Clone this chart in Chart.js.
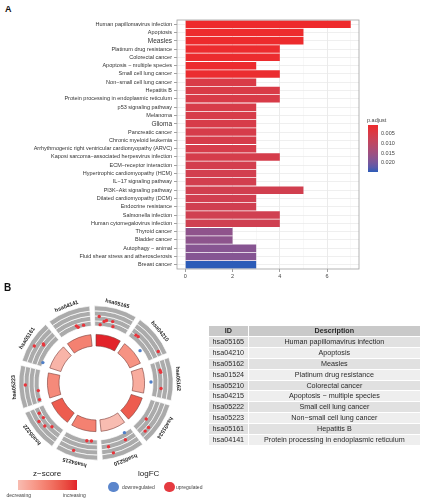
<!DOCTYPE html>
<html>
<head>
<meta charset="utf-8">
<script src="https://cdn.jsdelivr.net/npm/chart.js@4.4.1/dist/chart.umd.min.js"></script>
<style>
    body { margin: 0; width: 421px; height: 500px; background: #fff; position: relative; overflow: hidden;
           font-family: "Liberation Sans", Arial, sans-serif; color: #333; }
    .abs { position: absolute; }
    .panel { font-weight: bold; color: #111; }
    .small { font-size: 5.5px; color: #444; white-space: nowrap; }
    #keggTable { position: absolute; left: 207.5px; top: 324.5px; width: 213px; border-collapse: separate;
                 border-spacing: 1.5px 1px; font-size: 7.2px; will-change: transform; }
    #keggTable td, #keggTable th { height: 9.9px; padding: 0; text-align: center; line-height: 9.9px;
                                   white-space: nowrap; color: #2a2a2a; }
    #keggTable th { background: #c9c9c9; font-weight: bold; }
    #keggTable tr:nth-child(odd) td { background: #eeeeee; }
    #keggTable tr:nth-child(even) td { background: #e1e1e1; }
</style>
</head>
<body>

<div class="abs panel" style="left:5px;top:4px;font-size:9px;">A</div>
<canvas id="barChart" class="abs" width="421" height="285" style="left:0;top:0;"></canvas>

<!-- p.adjust colour bar -->
<div class="abs small" style="left:367px;top:117px;">p.adjust</div>
<div id="pBar" class="abs" style="left:368px;top:125px;width:10px;height:46.7px;"></div>
<div id="pTickBox"></div>

<div class="abs panel" style="left:4px;top:282px;font-size:10px;">B</div>
<canvas id="ringChart" class="abs" width="190" height="190" style="left:1px;top:288px;"></canvas>
<canvas id="dotChart" class="abs" width="190" height="190" style="left:1px;top:288px;"></canvas>

<table id="keggTable"></table>

<!-- circle legends -->
<div class="abs" style="left:33px;top:469px;font-size:8px;color:#222;">z−score</div>
<div id="zBar" class="abs" style="left:18px;top:479.5px;width:59px;height:10.5px;"></div>
<div class="abs small" style="left:6.5px;top:492px;font-size:5px;">decreasing</div>
<div class="abs small" style="left:63px;top:492px;font-size:5px;">increasing</div>
<div class="abs" style="left:138px;top:469px;font-size:8px;color:#222;">logFC</div>
<div class="abs" style="left:108px;top:481.5px;width:10.5px;height:10.5px;border-radius:50%;background:#5b86cc;"></div>
<div class="abs small" style="left:122px;top:484px;font-size:5px;">downregulated</div>
<div class="abs" style="left:164px;top:481.5px;width:10.5px;height:10.5px;border-radius:50%;background:#e53a40;"></div>
<div class="abs small" style="left:176px;top:484px;font-size:5px;">upregulated</div>

<script>
// ---- Panel A data ----
const pathways = [
    'Human papillomavirus infection', 'Apoptosis', 'Measles', 'Platinum drug resistance',
    'Colorectal cancer', 'Apoptosis − multiple species', 'Small cell lung cancer',
    'Non−small cell lung cancer', 'Hepatitis B', 'Protein processing in endoplasmic reticulum',
    'p53 signaling pathway', 'Melanoma', 'Glioma', 'Pancreatic cancer', 'Chronic myeloid leukemia',
    'Arrhythmogenic right ventricular cardiomyopathy (ARVC)', 'Kaposi sarcoma−associated herpesvirus infection',
    'ECM−receptor interaction', 'Hypertrophic cardiomyopathy (HCM)', 'IL−17 signaling pathway',
    'PI3K−Akt signaling pathway', 'Dilated cardiomyopathy (DCM)', 'Endocrine resistance',
    'Salmonella infection', 'Human cytomegalovirus infection', 'Thyroid cancer', 'Bladder cancer',
    'Autophagy − animal', 'Fluid shear stress and atherosclerosis', 'Breast cancer'
];
const geneCount = [7, 5, 5, 4, 4, 3, 4, 3, 4, 4, 3, 3, 3, 3, 3, 3, 4, 3, 3, 3, 5, 3, 3, 4, 4, 2, 2, 3, 3, 3];
const pAdjust = [0.0004, 0.0006, 0.0006, 0.0008, 0.0008, 0.0009, 0.0010, 0.0048, 0.0048, 0.0050,
                 0.0052, 0.0052, 0.0052, 0.0053, 0.0053, 0.0054, 0.0055, 0.0060, 0.0061, 0.0061,
                 0.0062, 0.0063, 0.0064, 0.0065, 0.0066, 0.0170, 0.0172, 0.0180, 0.0182, 0.0246];
const countTicks = [0, 2, 4, 6];
const pTicks = [0.005, 0.010, 0.015, 0.020];
const bigLabels = ['Measles', 'Glioma'];   // these come out larger in the original

// ---- Panel B data ----
const termIds = ['hsa05165', 'hsa04210', 'hsa05162', 'hsa01524', 'hsa05210',
                 'hsa04215', 'hsa05222', 'hsa05223', 'hsa05161', 'hsa04141'];
const termDesc = ['Human papillomavirus infection', 'Apoptosis', 'Measles', 'Platinum drug resistance',
                  'Colorectal cancer', 'Apoptosis − multiple species', 'Small cell lung cancer',
                  'Non−small cell lung cancer', 'Hepatitis B', 'Protein processing in endoplasmic reticulum'];
const zScore = [2.45, 1.4, 1.1, 2.0, 0.9, 1.6, 2.0, 1.5, 1.0, 1.6];
// genes drawn on the outer ring: which term, where along the term (deg), logFC
const geneTerm  = [0,0,0,0,0,0, 1,1,1,1, 2,2,2,2, 3,3,3, 4,4,4,4, 5,5,5, 6,6,6,6,6, 7,7,7, 8,8,8,8, 9,9,9];
const geneAngle = [5.8,10.5,12.5,7.1,18.2,19.7, 6.9,9.3,20.7,30.2, 9.7,11.5,20,25.9, 20.6,25.2,29.4,
                   9.2,11.6,27.9,25, 12,7.5,21.4, 29,23.7,23,17,12.2, 19.4,13.5,4.6, 16,21.5,21,6, 20,21.2,26.9];
const geneLogFC = [2.7,1.3,1.7,0.2,1.8,0.3, 1.4,1.5,-1.0,3.7, 2.3,2.4,-0.9,2.3, 1.2,3.4,3.4,
                   -0.2,1.9,2.2,4.4, 0.2,0.1,4.1, 2.0,1.6,3.4,2.8,1.3, 4.0,0.1,0.3, 4.4,2.4,2.1,-0.3, 0.8,0.2,0.4];
const logFCRange = [-1, 5];

const FONT = '"Liberation Sans", Arial, sans-serif';

// colour ramps in Lab space, like ggplot's gradient scales
function toLab(hex) {
    const c = [1, 3, 5].map(i => parseInt(hex.slice(i, i + 2), 16) / 255)
        .map(v => v <= 0.04045 ? v / 12.92 : Math.pow((v + 0.055) / 1.055, 2.4));
    const X = (0.4124 * c[0] + 0.3576 * c[1] + 0.1805 * c[2]) / 0.95047;
    const Y = 0.2126 * c[0] + 0.7152 * c[1] + 0.0722 * c[2];
    const Z = (0.0193 * c[0] + 0.1192 * c[1] + 0.9505 * c[2]) / 1.08883;
    const f = t => t > 0.008856 ? Math.cbrt(t) : 7.787 * t + 16 / 116;
    return [116 * f(Y) - 16, 500 * (f(X) - f(Y)), 200 * (f(Y) - f(Z))];
}
function fromLab(L, a, b) {
    const fy = (L + 16) / 116, fx = fy + a / 500, fz = fy - b / 200;
    const inv = t => t * t * t > 0.008856 ? t * t * t : (t - 16 / 116) / 7.787;
    const X = inv(fx) * 0.95047, Y = inv(fy), Z = inv(fz) * 1.08883;
    const rgb = [3.2406 * X - 1.5372 * Y - 0.4986 * Z,
                 -0.9689 * X + 1.8758 * Y + 0.0415 * Z,
                 0.0557 * X - 0.2040 * Y + 1.0570 * Z]
        .map(v => v <= 0.0031308 ? 12.92 * v : 1.055 * Math.pow(v, 1 / 2.4) - 0.055)
        .map(v => Math.round(Math.min(1, Math.max(0, v)) * 255));
    return `rgb(${rgb[0]},${rgb[1]},${rgb[2]})`;
}
function ramp(lowHex, highHex) {
    const lo = toLab(lowHex), hi = toLab(highHex);
    return t => fromLab(lo[0] + (hi[0] - lo[0]) * t, lo[1] + (hi[1] - lo[1]) * t, lo[2] + (hi[2] - lo[2]) * t);
}

const pMin = Math.min(...pAdjust), pMax = Math.max(...pAdjust);
const pRamp = ramp('#ee2a2c', '#2c5cb8');
const pColor = p => pRamp((p - pMin) / (pMax - pMin));

const zMin = Math.min(...zScore), zMax = Math.max(...zScore);
const zRamp = ramp('#f8bcb1', '#e2232a');
const zColor = z => zRamp((z - zMin) / (zMax - zMin));

// ---- p.adjust legend ----
const stops = [];
for (let i = 0; i <= 10; i++) stops.push(pRamp(i / 10) + ' ' + (i * 10) + '%');
document.getElementById('pBar').style.background = 'linear-gradient(to bottom,' + stops.join(',') + ')';
const pTickBox = document.getElementById('pTickBox');
pTicks.forEach(v => {
    const y = 125 + (v - pMin) / (pMax - pMin) * 46.7;
    const lab = document.createElement('div');
    lab.className = 'abs small';
    lab.style.left = '381px';
    lab.style.top = (y - 3.5) + 'px';
    lab.textContent = v.toFixed(3);
    pTickBox.appendChild(lab);
});

const zStops = [];
for (let i = 0; i <= 10; i++) zStops.push(zRamp(i / 10) + ' ' + (i * 10) + '%');
document.getElementById('zBar').style.background = 'linear-gradient(to right,' + zStops.join(',') + ')';

// ---- Panel A: bar chart ----
const frame = {
    id: 'frame',
    afterDatasetsDraw(chart) {
        const { ctx, chartArea: a } = chart;
        ctx.save();
        ctx.strokeStyle = '#a0a0a0';
        ctx.lineWidth = 0.8;
        ctx.strokeRect(a.left, a.top, a.right - a.left, a.bottom - a.top);
        ctx.restore();
    }
};

new Chart(document.getElementById('barChart'), {
    type: 'bar',
    data: {
        labels: pathways,
        datasets: [{
            data: geneCount,
            backgroundColor: pAdjust.map(pColor),
            borderWidth: 0,
            barPercentage: 0.9,
            categoryPercentage: 1
        }]
    },
    options: {
        indexAxis: 'y',
        responsive: false,
        animation: false,
        layout: { padding: { top: 20, right: 62, bottom: 0, left: 0 } },
        plugins: { legend: { display: false }, tooltip: { enabled: false } },
        scales: {
            x: {
                type: 'linear', min: -0.35, max: 7.35,
                afterBuildTicks: s => { s.ticks = [0, 1, 2, 3, 4, 5, 6, 7].map(v => ({ value: v })); },
                afterFit: s => { s.height = 16; },
                ticks: {
                    autoSkip: false, maxRotation: 0, padding: 1, color: '#444',
                    font: { family: FONT, size: 5.5 },
                    callback: v => countTicks.includes(v) ? String(v) : ''
                },
                grid: {
                    color: ctx => countTicks.includes(ctx.tick && ctx.tick.value) ? '#e6e6e6' : '#f1f1f1',
                    lineWidth: ctx => countTicks.includes(ctx.tick && ctx.tick.value) ? 0.8 : 0.5,
                    tickColor: ctx => countTicks.includes(ctx.tick && ctx.tick.value) ? '#888' : 'rgba(0,0,0,0)',
                    tickLength: 3
                },
                border: { display: false }
            },
            y: {
                afterFit: s => { s.width = 177; },
                ticks: {
                    autoSkip: false, padding: 2, color: '#333',
                    font: ctx => ({ family: FONT, size: bigLabels.includes(pathways[ctx.index]) ? 6.5 : 5.5 })
                },
                grid: { offset: false, color: '#ebebeb', lineWidth: 0.8, tickColor: '#888', tickLength: 3 },
                border: { display: false }
            }
        }
    },
    plugins: [frame]
});

// ---- Panel B: circle ----
// every term gets an equal slot; a transparent slice after it leaves the gap
const SLOT = 360 / termIds.length;
const GRAY_GAP = 3.5, INNER_GAP = 6, START = -3;
const slots = gap => termIds.flatMap(() => [SLOT - gap, gap]);
const alt = (a, b) => termIds.flatMap(() => [a, b]);

const grayBand = () => ({
    data: slots(GRAY_GAP), rotation: START + GRAY_GAP / 2, weight: 4.75,
    backgroundColor: alt('#ababab', 'rgba(0,0,0,0)'), borderColor: '#ffffff', borderWidth: alt(0.7, 0)
});

const termLabels = {
    id: 'termLabels',
    afterDraw(chart) {
        const ctx = chart.ctx;
        const arcs = chart.getDatasetMeta(0).data;
        ctx.save();
        ctx.fillStyle = '#222';
        ctx.font = 'bold 5.5px ' + FONT;
        ctx.textAlign = 'center';
        ctx.textBaseline = 'middle';
        termIds.forEach((id, i) => {
            const arc = arcs[2 * i];
            const mid = (arc.startAngle + arc.endAngle) / 2;
            const r = arc.outerRadius + 5;
            ctx.save();
            ctx.translate(arc.x + r * Math.cos(mid), arc.y + r * Math.sin(mid));
            ctx.rotate(mid + Math.PI / 2);
            ctx.fillText(id, 0, 0);
            ctx.restore();
        });
        ctx.restore();
    }
};

const ring = new Chart(document.getElementById('ringChart'), {
    type: 'doughnut',
    data: {
        datasets: [
            grayBand(), grayBand(), grayBand(), grayBand(),
            { data: slots(INNER_GAP), backgroundColor: 'rgba(0,0,0,0)', borderWidth: 0, weight: 8 },
            {
                data: slots(INNER_GAP), rotation: START + INNER_GAP / 2, weight: 11,
                backgroundColor: termIds.flatMap((id, i) => [zColor(zScore[i]), 'rgba(0,0,0,0)']),
                borderColor: '#7a3a36', borderWidth: alt(0.6, 0)
            }
        ]
    },
    options: {
        responsive: false,
        animation: false,
        cutout: 37,
        layout: { padding: 17.5 },
        plugins: { legend: { display: false }, tooltip: { enabled: false } }
    },
    plugins: [termLabels]
});

// genes placed on the grey ring of the doughnut drawn above
const outerArcs = ring.getDatasetMeta(0).data;
const rOut = outerArcs[0].outerRadius;
const rIn = ring.getDatasetMeta(3).data[0].innerRadius;
const cx = outerArcs[0].x, cy = outerArcs[0].y;
const genePoints = geneTerm.map((t, i) => {
    const slotStart = outerArcs[2 * t].startAngle - GRAY_GAP / 2 * Math.PI / 180;
    const a = slotStart + geneAngle[i] * Math.PI / 180;
    const r = rIn + (geneLogFC[i] - logFCRange[0]) / (logFCRange[1] - logFCRange[0]) * (rOut - rIn);
    return { x: cx - 95 + r * Math.cos(a), y: 95 - cy - r * Math.sin(a) };
});

new Chart(document.getElementById('dotChart'), {
    type: 'scatter',
    data: {
        datasets: [{
            data: genePoints,
            pointRadius: 1.7,
            borderWidth: 0,
            backgroundColor: geneLogFC.map(v => v < 0 ? '#4f7fc8' : '#e8343b')
        }]
    },
    options: {
        responsive: false,
        animation: false,
        layout: { padding: 0 },
        plugins: { legend: { display: false }, tooltip: { enabled: false } },
        scales: {
            x: { display: false, min: -95, max: 95 },
            y: { display: false, min: -95, max: 95 }
        }
    }
});

// ---- table ----
const table = document.getElementById('keggTable');
let html = '<tr><th style="width:38.7px">ID</th><th>Description</th></tr>';
termIds.forEach((id, i) => { html += `<tr><td>${id}</td><td>${termDesc[i]}</td></tr>`; });
table.innerHTML = html;
</script>
</body>
</html>
